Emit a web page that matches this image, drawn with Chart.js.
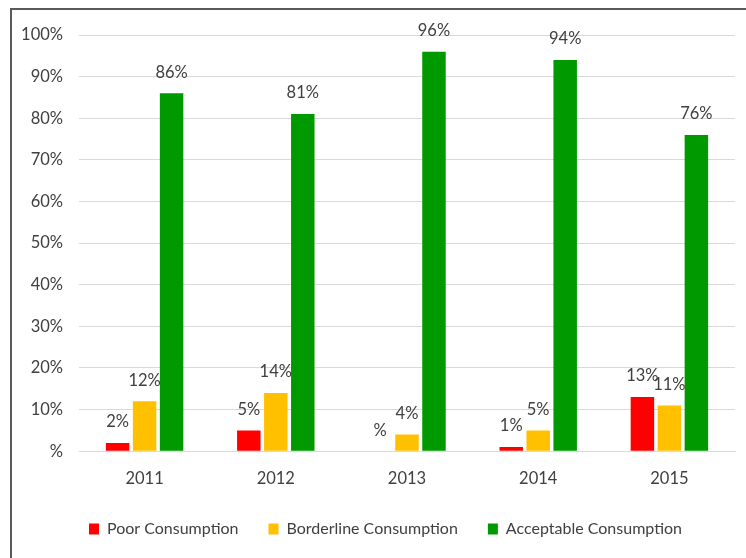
<!DOCTYPE html>
<html>
<head>
<meta charset="utf-8">
<script src="https://cdn.jsdelivr.net/npm/chart.js@4/dist/chart.umd.min.js"></script>
<style>
  html, body { margin: 0; padding: 0; background: #fff; overflow: hidden; }
  #wrap { position: relative; width: 746px; height: 558px; }
  #frame { position: absolute; left: 10px; top: 8px; width: 760px; height: 600px;
           border-left: 2px solid #5a5a5a; border-top: 2px solid #5a5a5a; box-sizing: border-box; pointer-events: none; }
  canvas { position: absolute; left: 0; top: 0; }
</style>
</head>
<body>
<div id="wrap">
  <canvas id="c" width="746" height="558"></canvas>
  <div id="frame"></div>
</div>
<script>
const categories = ['2011', '2012', '2013', '2014', '2015'];
const poorConsumption = [2, 5, 0, 1, 13];
const borderlineConsumption = [12, 14, 4, 5, 11];
const acceptableConsumption = [86, 81, 96, 94, 76];
const yTicks = [0, 10, 20, 30, 40, 50, 60, 70, 80, 90, 100];

const fmt = v => (v === 0 ? '%' : v + '%');
const FONT = 'Lato, "Open Sans", sans-serif';
const TEXT = '#404040';

const labelPlugin = {
  id: 'barLabels',
  afterLayout(chart) {
    // nudge legend as in the reference
    const lg = chart.legend;
    if (lg) { lg.left += 18; lg.right += 18; lg.top -= 16; lg.bottom -= 16; }
  },
  afterDatasetsDraw(chart) {
    const ctx = chart.ctx;
    ctx.save();
    ctx.font = '16.5px ' + FONT;
    ctx.fillStyle = TEXT;
    ctx.textAlign = 'center';
    ctx.textBaseline = 'middle';
    chart.data.datasets.forEach((ds, i) => {
      const meta = chart.getDatasetMeta(i);
      meta.data.forEach((el, j) => {
        ctx.fillText(fmt(ds.data[j]), el.x, el.y - 21);
      });
    });
    ctx.restore();
  }
};

new Chart(document.getElementById('c'), {
  type: 'bar',
  data: {
    labels: categories,
    datasets: [
      { label: 'Poor Consumption', data: poorConsumption, backgroundColor: '#ff0000' },
      { label: 'Borderline Consumption', data: borderlineConsumption, backgroundColor: '#ffc000' },
      { label: 'Acceptable Consumption', data: acceptableConsumption, backgroundColor: '#009900' }
    ]
  },
  options: {
    responsive: false,
    animation: false,
    layout: { padding: { top: 35, right: 11, left: 0, bottom: -5 } },
    datasets: { bar: { categoryPercentage: 0.617, barPercentage: 0.87 } },
    scales: {
      x: {
        grid: { display: false, drawTicks: false },
        border: { display: true, color: '#d9d9d9', width: 1 },
        ticks: { color: TEXT, font: { family: FONT, size: 16.5 }, padding: 18 }
      },
      y: {
        min: 0, max: 100,
        afterBuildTicks: s => { s.ticks = yTicks.map(v => ({ value: v })); },
        afterFit: s => { s.width = 79; },
        grid: { color: '#d9d9d9', drawTicks: false },
        border: { display: false },
        ticks: { color: TEXT, font: { family: FONT, size: 16.5 }, padding: 16, callback: v => fmt(v) }
      }
    },
    plugins: {
      legend: {
        position: 'bottom',
        labels: { color: TEXT, font: { family: FONT, size: 16 }, boxWidth: 10, boxHeight: 11, padding: 30 }
      },
      tooltip: { enabled: false }
    }
  },
  plugins: [labelPlugin]
});
</script>
</body>
</html>
